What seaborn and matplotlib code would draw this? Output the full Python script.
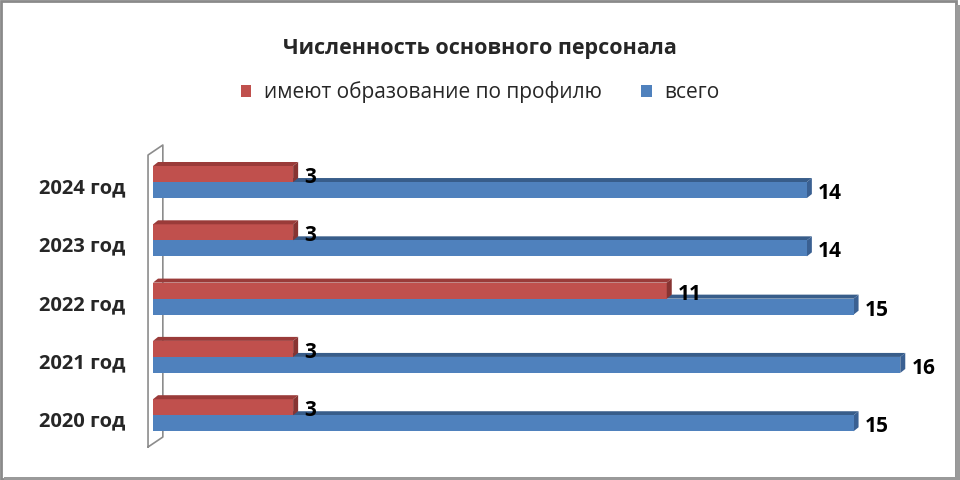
import pandas as pd
import matplotlib
matplotlib.use('Agg')
import matplotlib.pyplot as plt
import matplotlib.transforms as mtransforms
from matplotlib.patches import Polygon, Rectangle
import seaborn as sns

# данные
years = ['2024 год', '2023 год', '2022 год', '2021 год', '2020 год']
profile = [3, 3, 11, 3, 3]
total = [14, 14, 15, 16, 15]
series = ['имеют образование по профилю', 'всего']
colors = ['#C0504D', '#4F81BD']
tops = ['#9A3B39', '#385D8A']
sides = ['#873432', '#3A6092']

sns.set_style('white')
plt.rcParams['font.family'] = ['Open Sans', 'DejaVu Sans']

df = pd.DataFrame({
    'year': years * 2,
    'value': profile + total,
    'series': [series[0]] * len(years) + [series[1]] * len(years),
})

fig = plt.figure(figsize=(9.6, 4.8), dpi=100)
ax = fig.add_axes([0.1594, 0.0742, 0.8027, 0.6073])

sns.barplot(data=df, y='year', x='value', hue='series', hue_order=series,
            order=years, palette=colors, width=0.55, orient='h',
            saturation=1, linewidth=0, edgecolor='none', ax=ax, zorder=2)

ax.set_xlim(0, 16.5)
ax.set_ylim(4.5, -0.5)

# 3D-эффект: верхняя и боковая грани
dx = 5 / 46.7
dy = 4 / 58.3
for i, cont in enumerate(ax.containers):
    for p in cont:
        x0, y0 = p.get_x(), p.get_y()
        w, h = p.get_width(), p.get_height()
        yt, yb = min(y0, y0 + h), max(y0, y0 + h)
        z = 1 if i == 1 else 2.5
        ax.add_patch(Polygon([(x0, yt), (x0 + w, yt), (x0 + w + dx, yt - dy), (x0 + dx, yt - dy)],
                             closed=True, facecolor=tops[i], edgecolor='none', zorder=z))
        ax.add_patch(Polygon([(x0 + w, yt), (x0 + w + dx, yt - dy), (x0 + w + dx, yb - dy), (x0 + w, yb)],
                             closed=True, facecolor=sides[i], edgecolor='none', zorder=z))
    txts = ax.bar_label(cont, padding=8, fontsize=15, fontweight='bold', color='black')
    for t in txts:
        t.xyann = (8, -2.5)

# боковая стенка
ax.plot([-0.107, -0.107, 0.21, 0.21, -0.107], [4.545, -0.463, -0.635, 4.374, 4.545],
        color='#8C8C8C', lw=1.2, clip_on=False, zorder=0)

ax.set_xlabel('')
ax.set_ylabel('')
ax.set_xticks([])
ax.tick_params(axis='y', length=0, pad=20)
shift = mtransforms.ScaledTranslation(0, -0.04, fig.dpi_scale_trans)
for lbl in ax.get_yticklabels():
    lbl.set_fontsize(14.5)
    lbl.set_fontweight('bold')
    lbl.set_transform(lbl.get_transform() + shift)
for s in ax.spines.values():
    s.set_visible(False)

handles, labels = ax.get_legend_handles_labels()
ax.get_legend().remove()
fig.legend(handles, labels, loc='center', bbox_to_anchor=(0.5, 0.808), ncol=2,
           frameon=False, fontsize=15, handlelength=0.5, handleheight=0.5,
           handletextpad=0.6, columnspacing=1.9)

fig.text(0.5, 0.898, 'Численность основного персонала', ha='center', va='center',
         fontsize=15.5, fontweight='bold')

# рамка
fig.patches.append(Rectangle((0.001, 0.003), 0.995, 0.995, transform=fig.transFigure,
                             fill=False, edgecolor='#8A8A8A', lw=2))
fig.patches.append(Rectangle((0.004, 0.0), 0.996, 0.006, transform=fig.transFigure,
                             facecolor='#9A9A9A', edgecolor='none'))
fig.patches.append(Rectangle((0.996, 0.0), 0.004, 0.99, transform=fig.transFigure,
                             facecolor='#9A9A9A', edgecolor='none'))

fig.savefig('out.png', dpi=100)
